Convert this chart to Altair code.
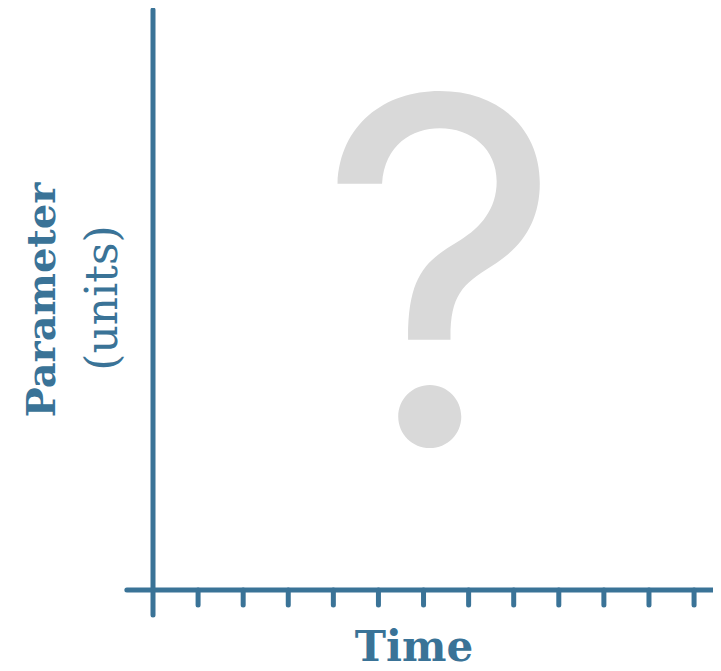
import altair as alt
import pandas as pd

# ---- data ----
tick_positions = [1, 2, 3, 4, 5, 6, 7, 8, 9, 10, 11, 12]
x_domain = [0, 12.42]
y_domain = [0, 10]
x_axis_span = [-0.58, 13.5]
y_axis_span = [-0.43, 10.0]
tick_depth = [0, -0.26]
x_title = "Time"
y_title = "Parameter"
y_subtitle = "(units)"
placeholder = "?"

BLUE = "#3a7397"
GRAY = "#d9d9d9"
W, H = 560, 580

xs = alt.Scale(domain=x_domain, nice=False, zero=False)
ys = alt.Scale(domain=y_domain, nice=False, zero=False)

xline = alt.Chart(pd.DataFrame({"x": [x_axis_span[0]], "x2": [x_axis_span[1]], "y": [0]})).mark_rule(
    color=BLUE, strokeWidth=5, strokeCap="round", clip=False
).encode(
    x=alt.X("x:Q", scale=xs, axis=None), x2="x2:Q", y=alt.Y("y:Q", scale=ys, axis=None)
)

yline = alt.Chart(pd.DataFrame({"x": [0], "y": [y_axis_span[0]], "y2": [y_axis_span[1]]})).mark_rule(
    color=BLUE, strokeWidth=5, strokeCap="round", clip=False
).encode(
    x=alt.X("x:Q", scale=xs, axis=None), y=alt.Y("y:Q", scale=ys, axis=None), y2="y2:Q"
)

ticks = alt.Chart(pd.DataFrame({"x": tick_positions, "y": [tick_depth[0]] * len(tick_positions),
                                "y2": [tick_depth[1]] * len(tick_positions)})).mark_rule(
    color=BLUE, strokeWidth=5, strokeCap="round", clip=False
).encode(
    x=alt.X("x:Q", scale=xs, axis=None), y=alt.Y("y:Q", scale=ys, axis=None), y2="y2:Q"
)

qmark = alt.Chart(pd.DataFrame({"t": [placeholder]})).mark_text(
    font="Inter", fontSize=480, color=GRAY, align="center", baseline="alphabetic"
).encode(x=alt.value(288), y=alt.value(435), text="t:N")

time_t = alt.Chart(pd.DataFrame({"t": [x_title]})).mark_text(
    font="DejaVu Serif", fontSize=42, fontWeight="bold", color=BLUE, align="center", baseline="alphabetic"
).encode(x=alt.value(261), y=alt.value(651), text="t:N")

param_t = alt.Chart(pd.DataFrame({"t": [y_title]})).mark_text(
    font="DejaVu Serif", fontSize=40, fontWeight="bold", color=BLUE, align="center",
    baseline="alphabetic", angle=270
).encode(x=alt.value(-98), y=alt.value(290), text="t:N")

units_t = alt.Chart(pd.DataFrame({"t": [y_subtitle]})).mark_text(
    font="DejaVu Serif", fontSize=44, color=BLUE, align="center",
    baseline="alphabetic", angle=270
).encode(x=alt.value(-36), y=alt.value(288), text="t:N")

chart = alt.layer(qmark, yline, xline, ticks, time_t, param_t, units_t).properties(
    width=W, height=H,
    background="white",
    padding={"left": 145, "top": 2, "right": 0, "bottom": 73},
    autosize=alt.AutoSizeParams(type="none"),
).configure_view(stroke=None, strokeWidth=0)

chart.save("out.html", embed_options={"renderer": "svg", "actions": False})
